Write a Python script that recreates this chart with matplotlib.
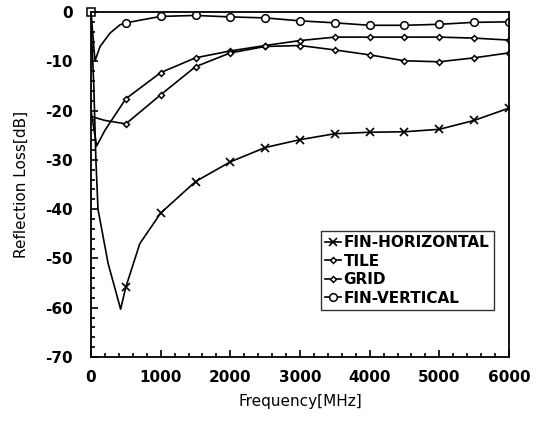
# Reflection loss vs frequency for four absorber shapes
import matplotlib.pyplot as plt
from matplotlib.ticker import MultipleLocator

plt.rcParams['font.family'] = ['DejaVu Sans']
plt.rcParams['axes.unicode_minus'] = False

# marked points every 500 MHz
freq = [500, 1000, 1500, 2000, 2500, 3000, 3500, 4000, 4500, 5000, 5500, 6000]
fin_h = [-55.8, -40.8, -34.4, -30.4, -27.5, -25.9, -24.7, -24.4, -24.3, -23.8, -22.0, -19.5]
tile = [-17.6, -12.3, -9.3, -7.9, -6.8, -5.8, -5.1, -5.1, -5.1, -5.1, -5.3, -5.7]
grid = [-22.7, -16.8, -11.1, -8.3, -7.0, -6.8, -7.7, -8.7, -9.9, -10.1, -9.3, -8.3]
fin_v = [-2.2, -0.9, -0.7, -1.0, -1.2, -1.8, -2.2, -2.7, -2.7, -2.5, -2.1, -2.0]

# low-frequency parts of the curves (no markers)
fin_h_low_f = [0, 40, 70, 100, 245, 425, 700]
fin_h_low = [-2, -15, -30, -40, -51, -60.3, -47]
tile_low_f = [0, 80, 200]
tile_low = [-20, -27.2, -24]
grid_low_f = [0, 200]
grid_low = [-21.2, -22.0]
fin_v_low_f = [0, 57, 130, 272, 416]
fin_v_low = [0, -9.9, -7.0, -4.3, -2.6]


def merge(fl, vl, f, v):
    pts = sorted(zip(fl + f, vl + v))
    xs = [p[0] for p in pts]
    ys = [p[1] for p in pts]
    marks = [xs.index(x) for x in f]
    return xs, ys, marks


fig = plt.figure(figsize=(5.46, 4.22), dpi=100)
ax = fig.add_axes([0.1667, 0.154, 0.7655, 0.8176])

series = [
    ('FIN-HORIZONTAL', fin_h_low_f, fin_h_low, fin_h, dict(marker='x', ms=6, mew=1.2)),
    ('TILE', tile_low_f, tile_low, tile, dict(marker='D', ms=3, mfc='white', mew=1.1)),
    ('GRID', grid_low_f, grid_low, grid, dict(marker='D', ms=3, mfc='white', mew=1.1)),
    ('FIN-VERTICAL', fin_v_low_f, fin_v_low, fin_v, dict(marker='o', ms=5.5, mfc='white', mew=1.1)),
]
for name, fl, vl, v, style in series:
    xs, ys, marks = merge(fl, vl, freq, v)
    ax.plot(xs, ys, color='black', lw=1.2, markevery=marks, label=name, **style)

# square marker at origin
ax.plot([0], [0], marker='s', ms=5.5, mfc='white', mec='black', mew=1.1, clip_on=False)

ax.set_xlim(0, 6000)
ax.set_ylim(-70, 0)
ax.xaxis.set_major_locator(MultipleLocator(1000))
ax.xaxis.set_minor_locator(MultipleLocator(200))
ax.yaxis.set_major_locator(MultipleLocator(10))
ax.yaxis.set_minor_locator(MultipleLocator(2))
ax.tick_params(which='both', direction='in', top=False, right=False, width=1.2)
ax.tick_params(which='major', length=5, labelsize=11)
ax.tick_params(which='minor', length=3)
ax.tick_params(axis='x', which='major', pad=9)
ax.tick_params(axis='y', which='major', pad=13)
for lab in ax.get_xticklabels() + ax.get_yticklabels():
    lab.set_fontweight('bold')
for s in ax.spines.values():
    s.set_linewidth(1.3)

ax.set_xlabel('Frequency[MHz]', fontsize=11, labelpad=7)
ax.set_ylabel('Reflection Loss[dB]', fontsize=11, labelpad=12)

leg = ax.legend(loc='lower right', bbox_to_anchor=(0.964, 0.136), fontsize=11,
                frameon=True, fancybox=False, edgecolor='black', handlelength=1.0,
                handletextpad=0.2, borderpad=0.3, labelspacing=0.22, borderaxespad=0)
leg.get_frame().set_linewidth(1.0)
for t in leg.get_texts():
    t.set_fontweight('bold')

fig.savefig('out.png', dpi=100)
